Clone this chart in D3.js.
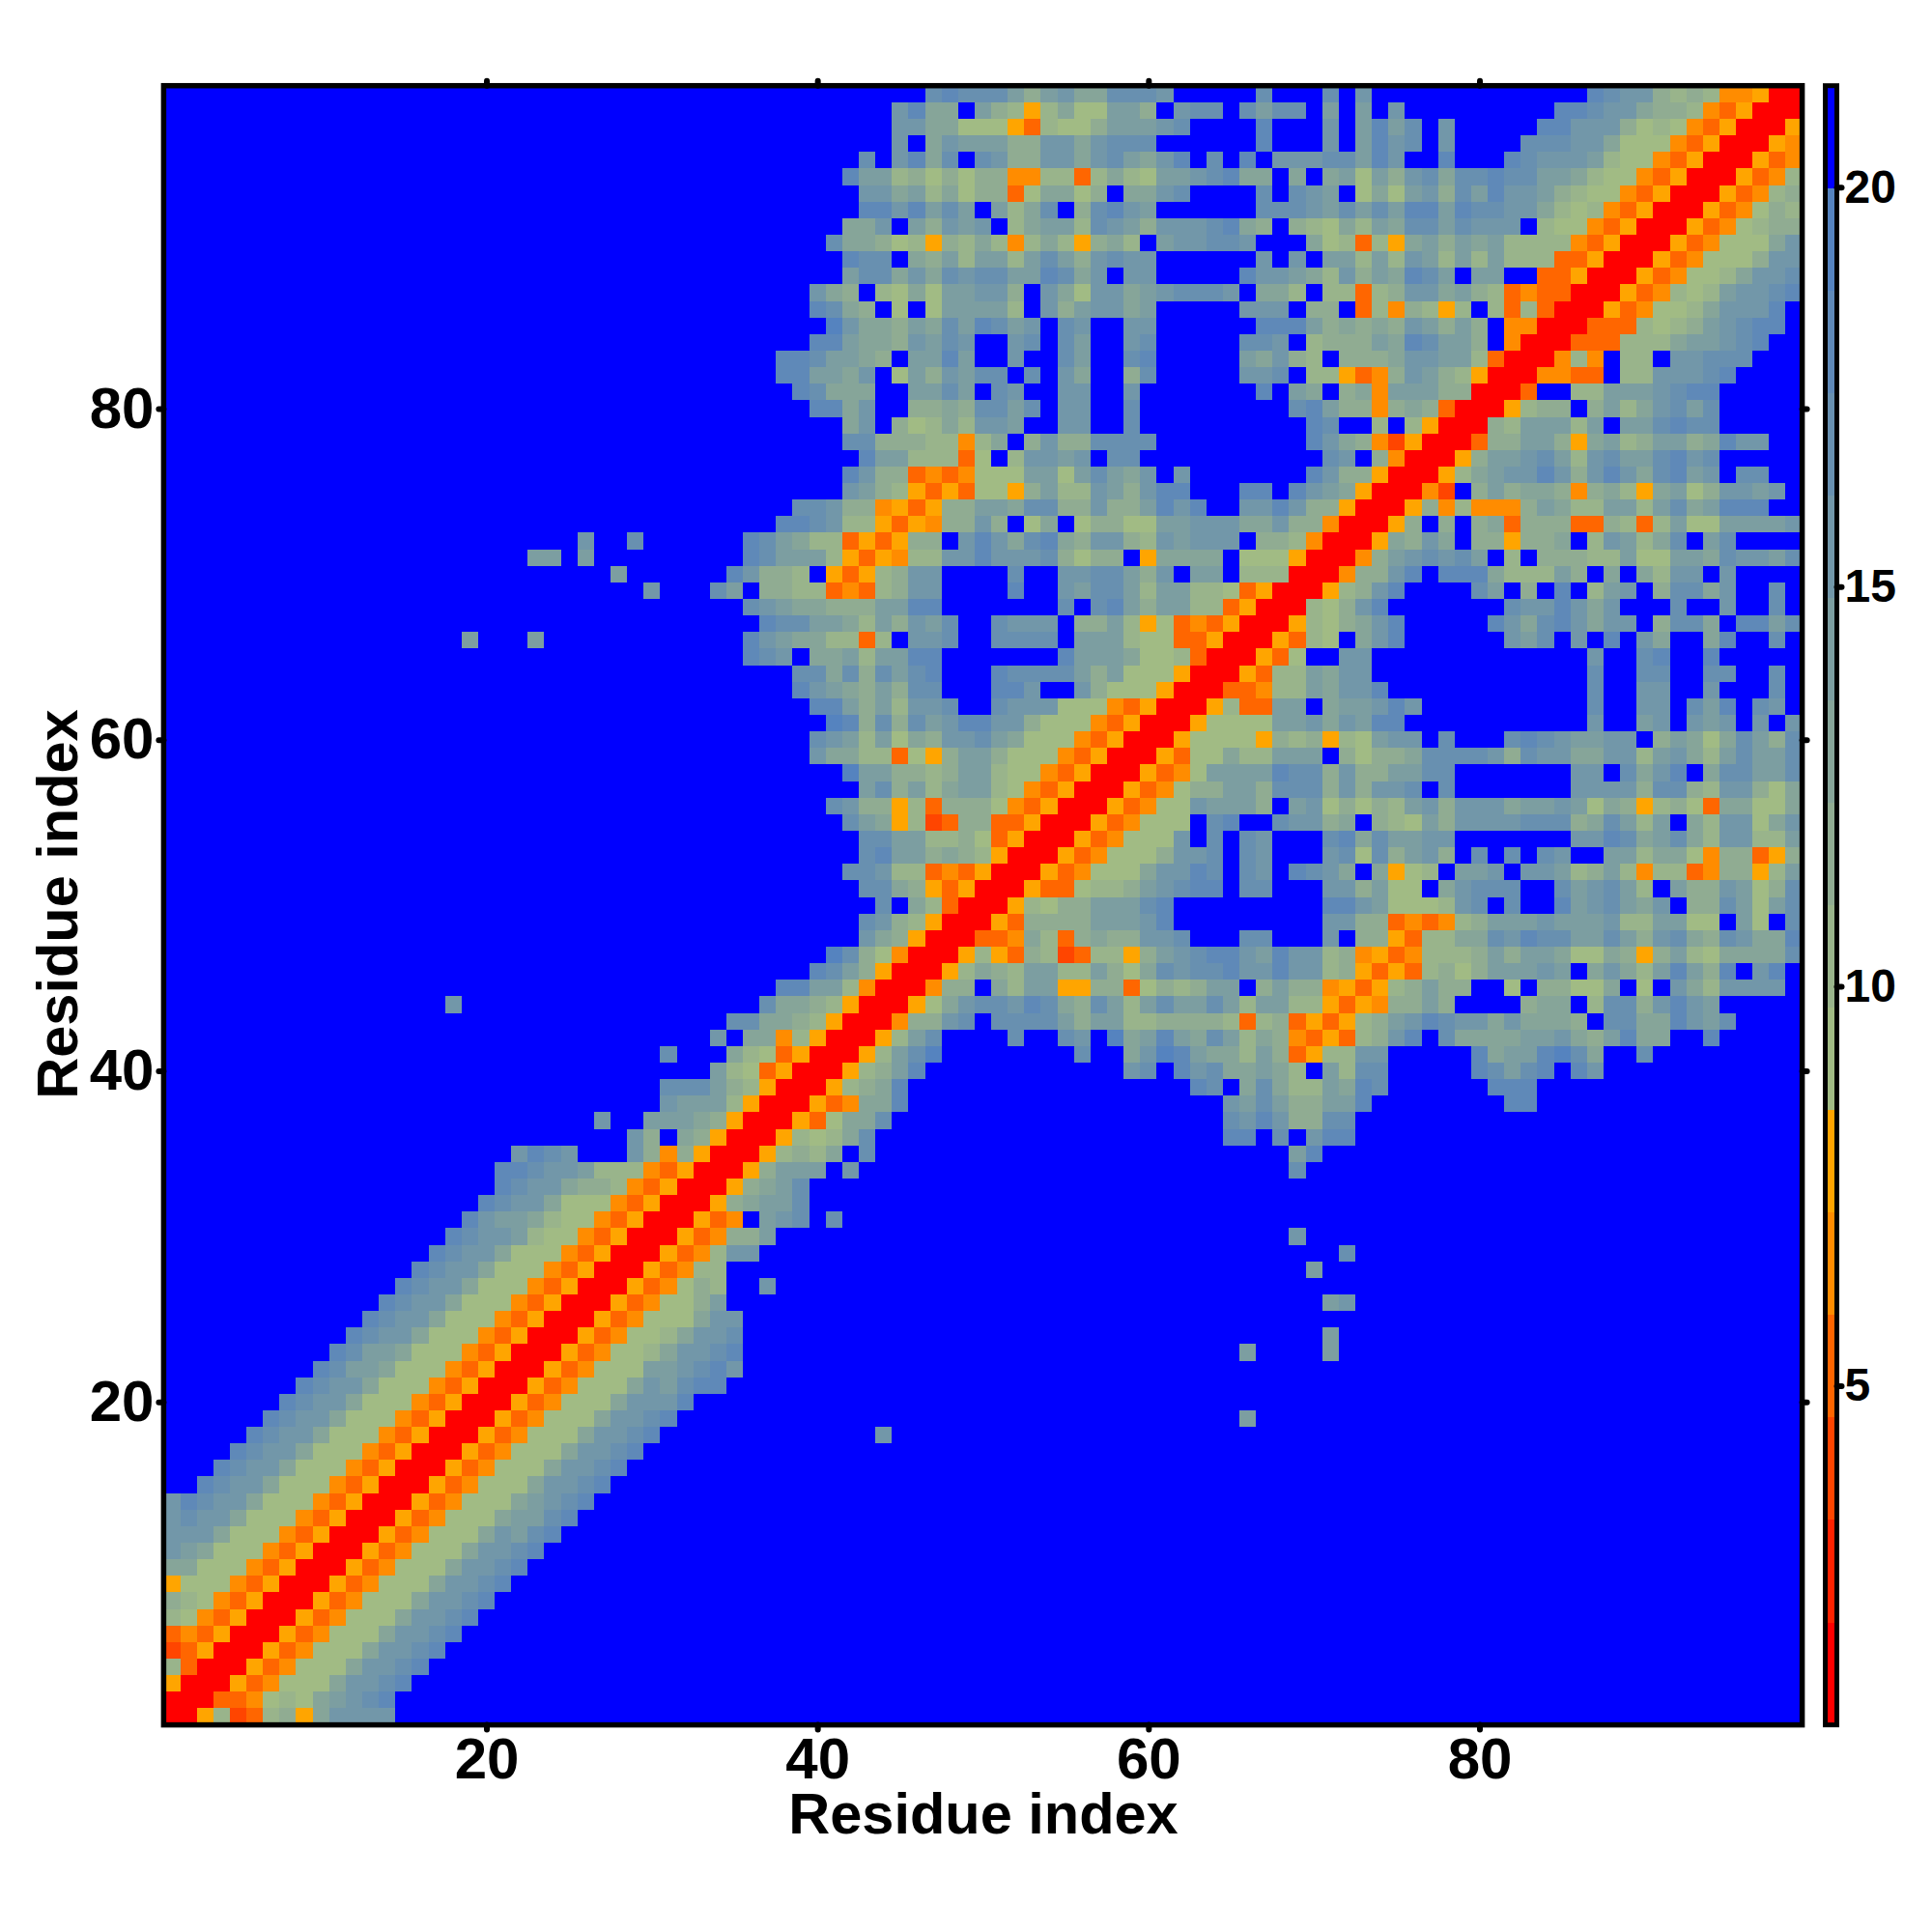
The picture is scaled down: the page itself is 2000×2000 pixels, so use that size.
<!DOCTYPE html>
<html><head><meta charset="utf-8">
<script src="https://cdn.jsdelivr.net/npm/d3@7/dist/d3.min.js"></script>
<style>html,body{margin:0;background:#fff}svg{display:block}text{font-family:"Liberation Sans",Arial,sans-serif;font-weight:bold;fill:#000}</style>
</head><body><svg id="c" width="2000" height="2000"></svg>
<script>
// Distance map: symmetric, so only the part from the left up to the diagonal.
// Each row j is right-aligned on the diagonal. Codes are colour-level classes (see levelCodes).
const levelCodes = "R12345abcdefghiz";
const rows = [
"R","RR","5RR","b3RR","235RR","3435RR","ba435RR","cba435RR","5aaa435RR","ddaaa435RR",
"fedaaa435RR","fffdaaa435RR","fgffdaaa435RR","fhgffdaaa435RR","hgffdaaa435RR","hgffdaaa435RR","hgffdaaa435RR","hgffdaaa435RR","hgffdaaa435RR","hgffdaaa435RR",
"hgffdaaa435RR","hgeedaaa435RR","hgeedaaa435RR","hgffdaaa435RR","hgffdaaa435RR","hgffdaaa435RR","hgffdaaa435RR","hgffdaaa435RR","hgffdaaa435RR","hgffebaa435RR",
"hfeedbaa435RR","hgffdaaa435RR","hgffdccb435RR","hhgffebbb435RR","fhgfzzzfc4c5RR","fczdc5RR","fzzeeedc5RR","feeeb5RR","gggecb5RR","eba35RR",
"gzzzdba35RR","fzdd4b5RR","ggddcb5RR","fzzzzzzzzzzzzzzzzzzgddcb5RR","hheeb4RR","hgec5RR","igca4RR","fdc5RR","gfcb5RR","gzdb3RR",
"ggdc535RR","ggfbb3435RR","gheecdcb5RR","ggeebbca35RR","ged5b23cc335RR","gfcc5b3ccca435RR","egcebdeeba435RR","ieeccbceebaa435RR","fddbb3a5ceecaaa435RR","gfebeadcffgedaaa435RR",
"ihcgcgefhhffcaaa435RR","hhecebffgzzgfffaaa435RR","hfedcecggzzzhhfzzfcaaa5RR","ggdgcgeghzzzhggggeceaaa5RR","hgfzddebeehhzzzzzzzheeedaab3RR","ezzze"+"zzzzzzzzzzzz"+"hfeddbb3bzffgzzggggzeeebaa335RR","hggeedbecfegzzgfffzcceb5a3435RR","gfeddccceehhzzzzzzzgzgheceebb35RR","fzzzgezccbb343bcffzzzzhzzfeggebeebba35RR","ezzzzzzhfccbz535bcffzzzzgzzffggecfzeezbbbRR",
"eezezzzzzzzzzhgeeeb5354bbffhfffgcaccz5ddddzaaa5RR","fzzgzzzzzzhgedbb3535cczfhfdghdcffcbfefffzccb4RR","hhgfbb5354ccfczadzaccaaeefffddfcc4RR","ggfcc4535cceedggccfccehfhzzffhfcc5RR","fecb5353aa5cebbfecfhhzzzhhzhfed5RR","hfcc3434aaaeeaegedfzfzzzzzzzhfcc5RR","heebbb3azbffefzggzzzzzzzzzzzgfzc4RR","ggcccbb4bdzcfccggggzzzzzzzzzhfdc425RR","dfzcabdbffezzffzzgzzzzzzzzzzhgzzbzb5RR","hhdfzzccdcggegzffzzgzzzzzzzzzghecc4cdc3RR",
"hgdddzzeegezgfzzffzzfzzzzzzzhzedzcd4eeeccRR","hheedfzaecfeggzgzfdzzcgzzzzzffgzbb534cfecb5RR","hhgeedczeehezzfzzgezzghzzzzzedfcbzcccdffeeb3RR","hheddcfegfzzfgzgezzfgzzzzzggfzbcccedhgeecz4RR","ifddcedgehgefzgfzzffzzzzzzhhhecdcdcfececz44RR","hgdczazaeeeebzfceffdezzzzzfffzccz3b4cb5bzb3b3RR","fdczbadaeeffczfdaffdefgggfzddbzbb3bcffdecb3433RR","eggdfdgfggeehgdfzffzzzzzhffedbfcedhgezeezz335RR","hggzdcebeebegecfgffzzzzzzfzfzeebebfebebebbb335RR","gddcab5cbdb4bdb5cdbzeffggfzzzdab3b5decedebbbb435RR",
"ddfzecfefzbdeebgfecfffghdczcbadbedggegfffzbaa435RR","hhfhegezebdgzcghfezzzzzzgggfegegehhehggffdbab435RR","ffdebdacc3addaczddfgzzzzgzgfezadaefcgehffecbaa435RR","heebcacacc44bb3bdbaeefghddzdzdeaecfgdgghggeedbaa435RR","gzfhdgzgfccffdfgedfhzgzhzfffggehfzzhzzzhgfffebaa435RR","fzdfeeeccffdfgggzzzzzzhzzzfzehfgzfzzzzgggffdaaa435RR","ffddaaa53baaceeefgzzzzhzzzfzehegzfzzzzzhhfffcaba435RR","fhddzecb5bdaaeeczfggzgeggzezezfzzzzzzzzzhhgffdccb435RR","ghgggecefddgggfzzzzzgzzzgzfzzzzzzzzzzzzzhgffcbcb445RR"
];
const residueTicks = [20,40,60,80];
const barTicks = [5,10,15,20];
const palette = ["#ff0000","#ff2200","#ff4500","#ff6600","#ff8c00","#ffa500",
 "#a1bb84","#99b48b","#90ac92","#86a599","#7c9ea1","#7297a9","#6890b0","#5f89b8","#5583bf","#0000ff"];
const valueDomain = [0.755,21.27];

const N = 99;
const step = (valueDomain[1]-valueDomain[0])/palette.length;
const matrix = Array.from({length:N},()=>new Array(N).fill(valueDomain[1]-step/2));
rows.forEach((s,r)=>{
  const j=r+1;
  [...s].forEach((ch,k)=>{
    const i=j-s.length+1+k;
    if(i<1) return;
    const v=valueDomain[0]+step*(levelCodes.indexOf(ch)+.5);
    matrix[j-1][i-1]=v; matrix[i-1][j-1]=v;
  });
});
const cells=[];
for(let a=1;a<=N;a++)for(let b=1;b<=N;b++)cells.push({x:a,y:b,v:matrix[b-1][a-1]});

const svg=d3.select("#c");
const L=169.4,R=1865.6,T=88.7,B=1785.6;
const x=d3.scaleLinear().domain([0.5,99.5]).range([L,R]);
const y=d3.scaleLinear().domain([0.5,99.5]).range([B,T]);
const color=d3.scaleQuantize().domain(valueDomain).range(palette);

svg.append("g").attr("shape-rendering","crispEdges").selectAll("rect").data(cells).join("rect")
 .attr("x",d=>x(d.x-.5)).attr("y",d=>y(d.y+.5))
 .attr("width",d=>x(d.x+.5)-x(d.x-.5)).attr("height",d=>y(d.y-.5)-y(d.y+.5))
 .attr("fill",d=>color(d.v));

function styleAxis(g,fs){
  g.select(".domain").remove();
  g.selectAll(".tick line").attr("stroke","#000").attr("stroke-width",6).attr("stroke-linecap","round");
  g.selectAll(".tick text").attr("font-size",fs).attr("fill","#000");
}
const TS=5;
svg.append("g").attr("transform",`translate(0,${B})`).call(d3.axisBottom(x).tickValues(residueTicks).tickSize(TS).tickPadding(8)).call(styleAxis,60);
svg.append("g").attr("transform",`translate(${L},0)`).call(d3.axisLeft(y).tickValues(residueTicks).tickSize(TS).tickPadding(5)).call(styleAxis,60);
svg.append("g").attr("transform",`translate(0,${T})`).call(d3.axisTop(x).tickValues(residueTicks).tickSize(TS).tickFormat("")).call(styleAxis,60);
svg.append("g").attr("transform",`translate(${R},0)`).call(d3.axisRight(y).tickValues(residueTicks).tickSize(TS).tickFormat("")).call(styleAxis,60);
svg.append("rect").attr("x",L).attr("y",T).attr("width",R-L).attr("height",B-T).attr("fill","none").attr("stroke","#000").attr("stroke-width",5.5);

svg.append("text").attr("x",1018).attr("y",1898).attr("text-anchor","middle").attr("font-size",59.5).text("Residue index");
svg.append("text").attr("transform","translate(80,936) rotate(-90)").attr("text-anchor","middle").attr("font-size",59.5).text("Residue index");

// colour bar
const barX=1889.5,barW=12;
const yb=d3.scaleLinear().domain(valueDomain).range([B,T]);
svg.append("g").attr("shape-rendering","crispEdges").selectAll("rect").data(palette).join("rect")
 .attr("x",barX).attr("width",barW)
 .attr("y",(d,i)=>yb(valueDomain[0]+step*(i+1))).attr("height",(d,i)=>yb(valueDomain[0]+step*i)-yb(valueDomain[0]+step*(i+1)))
 .attr("fill",d=>d);
svg.append("g").attr("transform",`translate(${barX+barW},0)`).call(d3.axisRight(yb).tickValues(barTicks).tickSize(TS).tickPadding(3)).call(styleAxis,48);
svg.append("rect").attr("x",barX).attr("y",T).attr("width",barW).attr("height",B-T).attr("fill","none").attr("stroke","#000").attr("stroke-width",5);
</script></body></html>
